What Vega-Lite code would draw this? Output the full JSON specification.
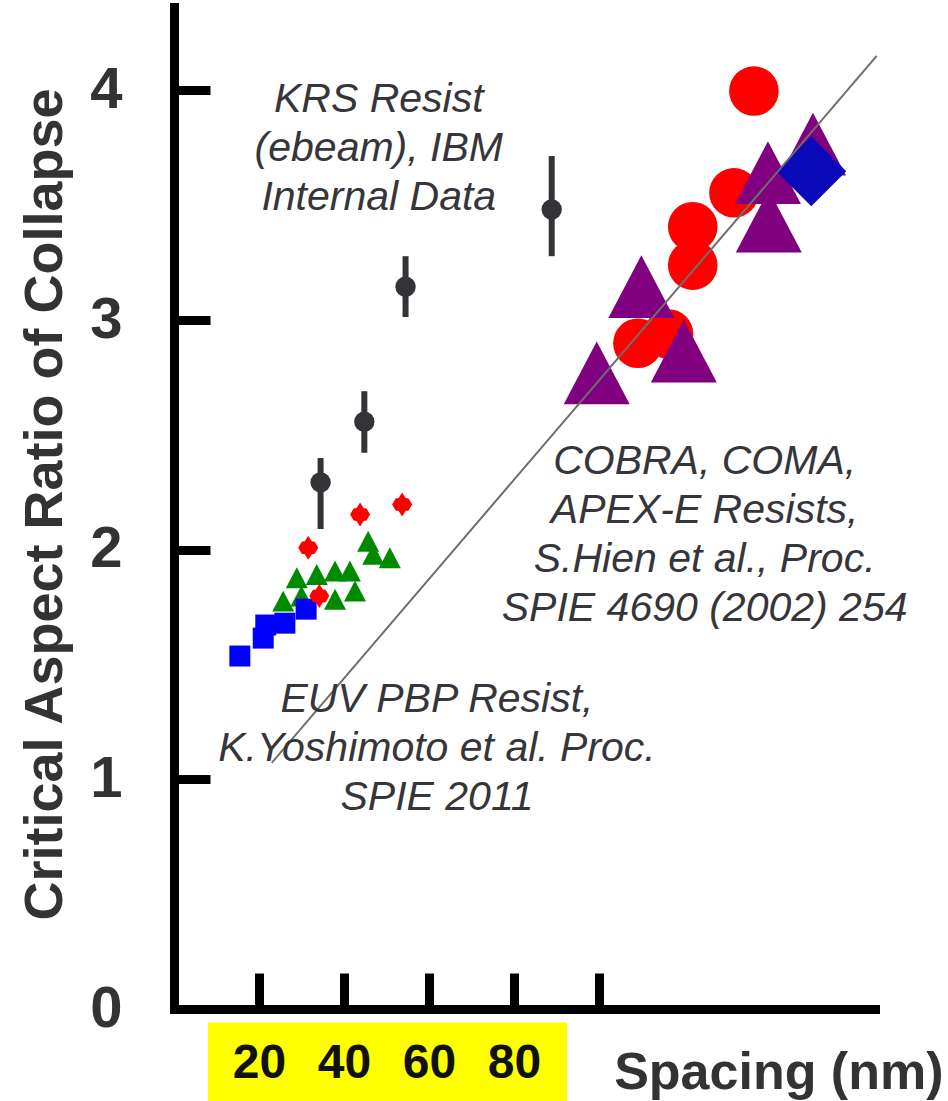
{
  "$schema": "https://vega.github.io/schema/vega-lite/v6.json",
  "width": 701,
  "height": 1002,
  "autosize": {"type": "none"},
  "padding": {"left": 174, "top": 7, "right": 73, "bottom": 92},
  "background": "white",
  "config": {"view": {"stroke": null}},
  "datasets": {
    "box": [{"x": 8.0, "x2": 92.5, "y": -0.059, "y2": -0.41}],
    "krs": [
      {"x": 34.5, "y": 2.293, "lo": 2.090, "hi": 2.399},
      {"x": 44.8, "y": 2.557, "lo": 2.422, "hi": 2.690},
      {"x": 54.5, "y": 3.145, "lo": 3.013, "hi": 3.278},
      {"x": 88.9, "y": 3.481, "lo": 3.278, "hi": 3.714}
    ],
    "pts": [
      {"set": "cobra_circle", "x": 136.5, "y": 3.997},
      {"set": "cobra_circle", "x": 131.8, "y": 3.554},
      {"set": "cobra_circle", "x": 122.1, "y": 3.406},
      {"set": "cobra_circle", "x": 122.1, "y": 3.239},
      {"set": "cobra_circle", "x": 109.2, "y": 2.899},
      {"set": "cobra_circle", "x": 116.4, "y": 2.939},
      {"set": "cobra_tri", "x": 99.5, "y": 2.770},
      {"set": "cobra_tri", "x": 110.0, "y": 3.145},
      {"set": "cobra_tri", "x": 120.0, "y": 2.865},
      {"set": "cobra_tri", "x": 140.0, "y": 3.43},
      {"set": "cobra_tri", "x": 139.8, "y": 3.642},
      {"set": "cobra_tri", "x": 150.4, "y": 3.766},
      {"set": "cobra_dia", "x": 150.0, "y": 3.648},
      {"set": "euv_tri", "x": 28.9, "y": 1.878},
      {"set": "euv_tri", "x": 33.6, "y": 1.892},
      {"set": "euv_tri", "x": 37.9, "y": 1.907},
      {"set": "euv_tri", "x": 41.4, "y": 1.907},
      {"set": "euv_tri", "x": 45.7, "y": 2.037},
      {"set": "euv_tri", "x": 46.9, "y": 1.980},
      {"set": "euv_tri", "x": 50.8, "y": 1.965},
      {"set": "euv_tri", "x": 25.7, "y": 1.776},
      {"set": "euv_tri", "x": 30.0, "y": 1.798},
      {"set": "euv_tri", "x": 37.9, "y": 1.784},
      {"set": "euv_tri", "x": 42.6, "y": 1.820},
      {"set": "euv_sq", "x": 15.5, "y": 1.537},
      {"set": "euv_sq", "x": 21.0, "y": 1.615},
      {"set": "euv_sq", "x": 21.6, "y": 1.672},
      {"set": "euv_sq", "x": 26.1, "y": 1.680},
      {"set": "euv_sq", "x": 31.1, "y": 1.741},
      {"set": "euv_star", "x": 31.6, "y": 2.008},
      {"set": "euv_star", "x": 34.2, "y": 1.798},
      {"set": "euv_star", "x": 43.8, "y": 2.153},
      {"set": "euv_star", "x": 53.7, "y": 2.197}
    ],
    "fit": [{"x": 23.0, "y": 1.072}, {"x": 165.4, "y": 4.15}],
    "notes": [
      {"x": 48.2, "y": 3.958, "text": "KRS Resist\n(ebeam), IBM\nInternal Data"},
      {"x": 124.9, "y": 2.382, "text": "COBRA, COMA,\nAPEX-E Resists,\nS.Hien et al., Proc.\nSPIE 4690 (2002) 254"},
      {"x": 61.9, "y": 1.345, "text": "EUV PBP Resist,\nK.Yoshimoto et al. Proc.\nSPIE 2011"}
    ]
  },
  "layer": [
    {
      "data": {"name": "box"},
      "mark": {"type": "rect", "color": "#ffff00"},
      "encoding": {
        "x": {
          "field": "x", "type": "quantitative",
          "scale": {"domain": [0, 165], "nice": false, "zero": false},
          "axis": {
            "title": "Spacing (nm)",
            "values": [20, 40, 60, 80, 100],
            "labelExpr": "datum.value <= 80 ? datum.label : ''",
            "grid": false,
            "zindex": 1,
            "domainColor": "#000000", "domainWidth": 9, "domainCap": "square",
            "tickColor": "#000000", "tickWidth": 9, "tickSize": -36,
            "labelFont": "Liberation Sans", "labelFontSize": 48, "labelFontWeight": "bold",
            "labelColor": "#111111", "labelPadding": 90, "labelBaseline": "middle",
            "labelOverlap": false, "labelFlush": false,
            "titleFont": "Liberation Sans", "titleFontSize": 52, "titleFontWeight": "bold",
            "titleColor": "#333333", "titleX": 769, "titleY": 79, "titleAlign": "right", "titleBaseline": "alphabetic"
          }
        },
        "x2": {"field": "x2"},
        "y": {
          "field": "y", "type": "quantitative",
          "scale": {"domain": [0, 4.363], "nice": false, "zero": false},
          "axis": {
            "title": "Critical Aspect Ratio of Collapse",
            "values": [0, 1, 2, 3, 4],
            "format": "d",
            "grid": false,
            "zindex": 1,
            "domainColor": "#000000", "domainWidth": 9, "domainCap": "square",
            "tickColor": "#000000", "tickWidth": 9, "tickSize": -36,
            "labelFont": "Liberation Sans", "labelFontSize": 58, "labelFontWeight": "bold",
            "labelColor": "#333333", "labelPadding": 88, "labelOverlap": false, "labelFlush": false,
            "titleFont": "Liberation Sans", "titleFontSize": 54, "titleFontWeight": "bold",
            "titleColor": "#333333", "titleX": -129, "titleY": 497, "titleAlign": "center", "titleBaseline": "middle", "titleAngle": 270
          }
        },
        "y2": {"field": "y2"}
      }
    },
    {
      "data": {"name": "pts"},
      "transform": [{"filter": "datum.set === 'cobra_circle'"}],
      "mark": {"type": "point", "shape": "circle", "filled": true, "color": "#ff0000", "opacity": 1, "size": 2460},
      "encoding": {"x": {"field": "x", "type": "quantitative"}, "y": {"field": "y", "type": "quantitative"}}
    },
    {
      "data": {"name": "pts"},
      "transform": [{"filter": "datum.set === 'cobra_tri'"}],
      "mark": {"type": "point", "shape": "M0,-0.95L1,0.95L-1,0.95Z", "filled": true, "color": "#800080", "opacity": 1, "size": 4356},
      "encoding": {"x": {"field": "x", "type": "quantitative"}, "y": {"field": "y", "type": "quantitative"}}
    },
    {
      "data": {"name": "pts"},
      "transform": [{"filter": "datum.set === 'cobra_dia'"}],
      "mark": {"type": "point", "shape": "diamond", "filled": true, "color": "#0a0ab8", "opacity": 1, "size": 4900},
      "encoding": {"x": {"field": "x", "type": "quantitative"}, "y": {"field": "y", "type": "quantitative"}}
    },
    {
      "data": {"name": "pts"},
      "transform": [{"filter": "datum.set === 'euv_tri'"}],
      "mark": {"type": "point", "shape": "M0,-0.95L1,0.95L-1,0.95Z", "filled": true, "color": "#008a00", "opacity": 1, "size": 484},
      "encoding": {"x": {"field": "x", "type": "quantitative"}, "y": {"field": "y", "type": "quantitative"}}
    },
    {
      "data": {"name": "pts"},
      "transform": [{"filter": "datum.set === 'euv_sq'"}],
      "mark": {"type": "point", "shape": "square", "filled": true, "color": "#0000ff", "opacity": 1, "size": 440},
      "encoding": {"x": {"field": "x", "type": "quantitative"}, "y": {"field": "y", "type": "quantitative"}}
    },
    {
      "data": {"name": "pts"},
      "transform": [{"filter": "datum.set === 'euv_star'"}],
      "mark": {"type": "point", "shape": "M0,-1.2L0.35,-0.65L0.65,-0.6L1,0L0.65,0.6L0.35,0.65L0,1.2L-0.35,0.65L-0.65,0.6L-1,0L-0.65,-0.6L-0.35,-0.65Z", "filled": true, "color": "#ff0000", "opacity": 1, "size": 400},
      "encoding": {"x": {"field": "x", "type": "quantitative"}, "y": {"field": "y", "type": "quantitative"}}
    },
    {
      "data": {"name": "fit"},
      "mark": {"type": "line", "color": "#6e6e6e", "strokeWidth": 2},
      "encoding": {"x": {"field": "x", "type": "quantitative"}, "y": {"field": "y", "type": "quantitative"}}
    },
    {
      "data": {"name": "krs"},
      "mark": {"type": "rule", "color": "#333338", "strokeWidth": 6},
      "encoding": {"x": {"field": "x", "type": "quantitative"}, "y": {"field": "lo", "type": "quantitative"}, "y2": {"field": "hi"}}
    },
    {
      "data": {"name": "krs"},
      "mark": {"type": "point", "shape": "circle", "filled": true, "color": "#333338", "opacity": 1, "size": 415},
      "encoding": {"x": {"field": "x", "type": "quantitative"}, "y": {"field": "y", "type": "quantitative"}}
    },
    {
      "data": {"name": "notes"},
      "mark": {"type": "text", "align": "center", "baseline": "middle", "lineBreak": "\n", "lineHeight": 49, "font": "Liberation Sans", "fontStyle": "italic", "fontSize": 41, "color": "#35353a"},
      "encoding": {"x": {"field": "x", "type": "quantitative"}, "y": {"field": "y", "type": "quantitative"}, "text": {"field": "text"}}
    }
  ]
}
